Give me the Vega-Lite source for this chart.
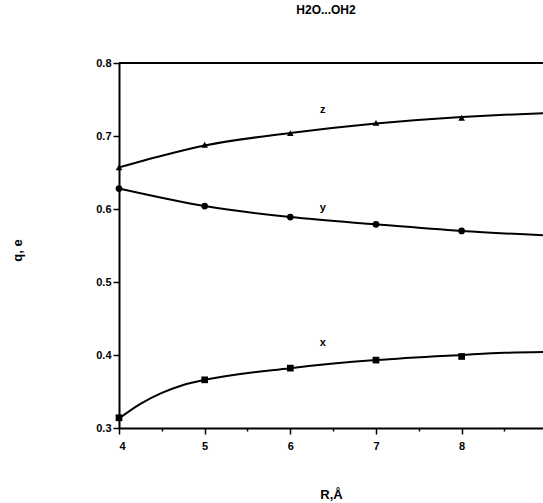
{
  "$schema": "https://vega.github.io/schema/vega-lite/v6.json",
  "autosize": "none",
  "width": 424,
  "height": 365,
  "padding": {"left": 119, "top": 63, "right": 0, "bottom": 75},
  "background": "white",
  "config": {
    "view": {"stroke": null},
    "font": "Liberation Sans",
    "axis": {"domainColor": "black", "tickColor": "black", "labelColor": "black", "titleColor": "black", "grid": false}
  },
  "title": {"text": "H2O...OH2", "fontSize": 12, "fontWeight": "bold", "font": "Liberation Sans", "offset": 40, "dx": -5, "color": "black"},
  "datasets": {
    "curves": [
      {"series": "z", "R": 4.0, "q": 0.657},
      {"series": "z", "R": 4.5, "q": 0.673},
      {"series": "z", "R": 5.0, "q": 0.687},
      {"series": "z", "R": 6.0, "q": 0.704},
      {"series": "z", "R": 7.0, "q": 0.717},
      {"series": "z", "R": 8.0, "q": 0.726},
      {"series": "z", "R": 8.5, "q": 0.729},
      {"series": "z", "R": 8.95, "q": 0.731},
      {"series": "y", "R": 4.0, "q": 0.628},
      {"series": "y", "R": 5.0, "q": 0.604},
      {"series": "y", "R": 6.0, "q": 0.589},
      {"series": "y", "R": 7.0, "q": 0.579},
      {"series": "y", "R": 8.0, "q": 0.570},
      {"series": "y", "R": 8.95, "q": 0.564},
      {"series": "x", "R": 4.0, "q": 0.313},
      {"series": "x", "R": 4.25, "q": 0.333},
      {"series": "x", "R": 4.5, "q": 0.348},
      {"series": "x", "R": 4.75, "q": 0.359},
      {"series": "x", "R": 5.0, "q": 0.366},
      {"series": "x", "R": 6.0, "q": 0.382},
      {"series": "x", "R": 7.0, "q": 0.393},
      {"series": "x", "R": 8.0, "q": 0.400},
      {"series": "x", "R": 8.5, "q": 0.403},
      {"series": "x", "R": 8.95, "q": 0.404}
    ],
    "markers": [
      {"series": "z", "R": 4, "q": 0.657},
      {"series": "z", "R": 5, "q": 0.688},
      {"series": "z", "R": 6, "q": 0.704},
      {"series": "z", "R": 7, "q": 0.718},
      {"series": "z", "R": 8, "q": 0.725},
      {"series": "y", "R": 4, "q": 0.628},
      {"series": "y", "R": 5, "q": 0.604},
      {"series": "y", "R": 6, "q": 0.589},
      {"series": "y", "R": 7, "q": 0.579},
      {"series": "y", "R": 8, "q": 0.570},
      {"series": "x", "R": 4, "q": 0.314},
      {"series": "x", "R": 5, "q": 0.366},
      {"series": "x", "R": 6, "q": 0.382},
      {"series": "x", "R": 7, "q": 0.393},
      {"series": "x", "R": 8, "q": 0.398}
    ],
    "labels": [
      {"series": "z", "R": 6.38, "q": 0.735},
      {"series": "y", "R": 6.38, "q": 0.602},
      {"series": "x", "R": 6.38, "q": 0.416}
    ]
  },
  "layer": [
    {
      "data": {"values": [{}]},
      "mark": {"type": "rule", "color": "black", "strokeWidth": 2},
      "encoding": {"y": {"datum": 0.8, "type": "quantitative"}}
    },
    {
      "data": {"name": "curves"},
      "mark": {"type": "line", "interpolate": "monotone", "color": "black", "strokeWidth": 2},
      "encoding": {
        "x": {
          "field": "R", "type": "quantitative",
          "scale": {"domain": [4, 8.95], "nice": false, "zero": false},
          "axis": {
            "title": "R,Å", "titleFontSize": 13, "titleFontWeight": "bold", "titleY": 66, "titleBaseline": "middle",
            "values": [4, 4.5, 5, 5.5, 6, 6.5, 7, 7.5, 8, 8.5],
            "labelExpr": "datum.value % 1 == 0 ? format(datum.value, 'd') : ''",
            "labelFontSize": 11, "labelFontWeight": "bold", "labelPadding": 6,
            "domainWidth": 2, "tickWidth": 1.5,
            "tickSize": {"condition": {"test": "datum.value % 1 == 0", "value": 6}, "value": 3}
          }
        },
        "y": {
          "field": "q", "type": "quantitative",
          "scale": {"domain": [0.3, 0.8], "nice": false, "zero": false},
          "axis": {
            "title": "q, e", "titleFontSize": 13, "titleFontWeight": "bold", "titleX": -102, "titleY": 187, "titleBaseline": "middle",
            "values": [0.3, 0.35, 0.4, 0.45, 0.5, 0.55, 0.6, 0.65, 0.7, 0.75, 0.8],
            "labelExpr": "abs(datum.value * 10 - round(datum.value * 10)) < 0.01 ? format(datum.value, '.1f') : ''",
            "labelFontSize": 11, "labelFontWeight": "bold", "labelPadding": 2,
            "domainWidth": 2, "tickWidth": 1.5,
            "tickSize": {"condition": {"test": "abs(datum.value * 10 - round(datum.value * 10)) < 0.01", "value": 6}, "value": 3}
          }
        },
        "detail": {"field": "series"}
      }
    },
    {
      "data": {"name": "markers"},
      "mark": {"type": "point", "filled": true, "color": "black", "opacity": 1, "size": 45},
      "encoding": {
        "x": {"field": "R", "type": "quantitative"},
        "y": {"field": "q", "type": "quantitative"},
        "shape": {"field": "series", "type": "nominal", "scale": {"domain": ["z", "y", "x"], "range": ["triangle-up", "circle", "square"]}, "legend": null}
      }
    },
    {
      "data": {"name": "labels"},
      "mark": {"type": "text", "fontSize": 11, "fontWeight": "bold", "color": "black", "font": "Liberation Sans"},
      "encoding": {
        "x": {"field": "R", "type": "quantitative"},
        "y": {"field": "q", "type": "quantitative"},
        "text": {"field": "series"}
      }
    }
  ]
}
